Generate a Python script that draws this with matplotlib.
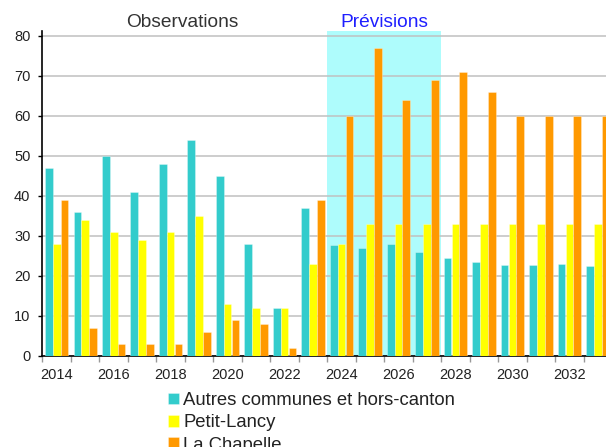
import numpy as np
import matplotlib
matplotlib.use('Agg')
import matplotlib.pyplot as plt

plt.rcParams['font.family'] = ['Liberation Sans', 'DejaVu Sans']

years = list(range(2014, 2034))
autres = [47, 36, 50, 41, 48, 54, 45, 28, 12, 37,
          27.7, 26.9, 28.0, 25.9, 24.4, 23.6, 22.8, 22.8, 23.0, 22.6]
petit_lancy = [28, 34, 31, 29, 31, 35, 13, 12, 12, 23,
               28, 33, 33, 33, 33, 33, 33, 33, 33, 33]
la_chapelle = [39, 7, 3, 3, 3, 6, 9, 8, 2, 39,
               60, 77, 64, 69, 71, 66, 60, 60, 60, 60]
series_names = ['Autres communes et hors-canton', 'Petit-Lancy', 'La Chapelle']
series_colors = ['#33cccc', '#ffff00', '#ff9900']
forecast_years = (2024, 2027)

fig = plt.figure(figsize=(6.06, 4.47), dpi=100)
ax = fig.add_axes([0.0701, 0.2036, 0.940, 0.727])

x = np.arange(len(years))
w = 0.275
for k, (vals, name, col) in enumerate(zip([autres, petit_lancy, la_chapelle], series_names, series_colors)):
    ax.bar(x + (k - 1) * w, vals, width=0.27, color=col, label=name,
           edgecolor=(1, 1, 1, 0.35), linewidth=0.6, zorder=3)

# shaded forecast period
i0 = years.index(forecast_years[0])
i1 = years.index(forecast_years[1])
ax.axvspan(i0 - 0.5, i1 + 0.5, color='#aefcfc', zorder=0.1, lw=0)

ax.set_xlim(-0.5, len(years) - 0.5)
ax.set_ylim(0, 81.2)
ax.set_yticks(np.arange(0, 81, 10))
ax.set_axisbelow(True)
ax.yaxis.grid(True, color='#c0c0c0', linewidth=1.1)

ax.set_xticks(x[::2])
ax.set_xticklabels([str(y) for y in years[::2]])
ax.set_xticks(np.arange(-0.5, len(years), 1), minor=True)
ax.tick_params(axis='x', which='major', length=0, pad=8.5, labelsize=10.5, labelcolor='#222222')
ax.tick_params(axis='x', which='minor', length=4, width=1, color='#999999')
ax.tick_params(axis='y', length=3.2, width=1, pad=5.5, labelsize=10.5, labelcolor='#222222')

for s in ['top', 'right']:
    ax.spines[s].set_visible(False)
ax.spines['left'].set_linewidth(1.2)
ax.spines['bottom'].set_linewidth(1.2)

tr = matplotlib.transforms.blended_transform_factory(ax.transData, ax.transAxes)
ax.text(4.4, 1.027, 'Observations', transform=tr, ha='center', va='center',
        fontsize=13.8, color='#333333')
ax.text((i0 + i1) / 2, 1.027, 'Prévisions', transform=tr, ha='center', va='center',
        fontsize=13.8, color='#1f1fff')

leg = fig.legend(loc='upper left', bbox_to_anchor=(168 / 606, 1 - 392 / 447), frameon=False,
                 fontsize=13.3, handlelength=0.62, handleheight=0.62, handletextpad=0.2,
                 labelspacing=0.29, borderpad=0, borderaxespad=0)
for t in leg.get_texts():
    t.set_color('#222222')

fig.savefig('out.png', dpi=100)
